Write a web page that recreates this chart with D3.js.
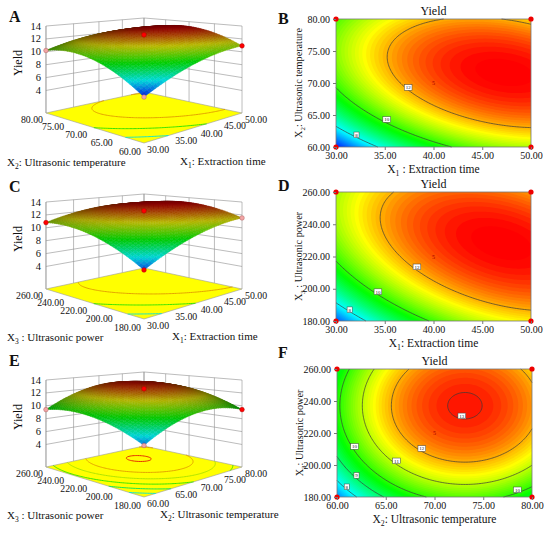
<!DOCTYPE html>
<html>
<head>
<meta charset="utf-8">
<script src="https://cdn.jsdelivr.net/npm/d3@7"></script>
<style>
  body { margin: 0; background: #fff; }
  svg { display: block; }
  text { font-family: "Liberation Serif", "Times New Roman", serif; fill: #111; }
</style>
</head>
<body>
<svg width="550" height="535"></svg>
<script>
// quadratic model of Yield, factors in coded units (-1 .. 1)
const intercept = 12.63;
const linearCoef = [1.52, 1.16, 1.16];          // X1, X2, X3
const interactionCoef = [-0.75, -0.86, 0.00];   // X1X2, X1X3, X2X3
const quadraticCoef = [-0.96, -1.86, -1.36];    // X1^2, X2^2, X3^2

const factorLow = [30, 60, 180];
const factorHigh = [50, 80, 260];
const factorTicks = [[30, 35, 40, 45, 50], [60, 65, 70, 75, 80], [180, 200, 220, 240, 260]];
const yieldTicks = [4, 6, 8, 10, 12, 14];

const levelsB = [8, 10, 12];
const levelsD = [8, 10, 12];
const levelsF = [8, 9, 10, 11, 12, 13];

// contour labels [x, y, level] as they sit in the picture
const labelsB = [[32.1, 61.9, 8], [35.2, 64.3, 10], [37.4, 69.3, 12]];
const labelsD = [[31.4, 187, 8], [34.3, 198.2, 10], [38.3, 213.6, 12]];
const labelsF = [[61.0, 186.4, 8], [62.0, 193.5, 9], [61.8, 211.6, 10], [66.1, 202.6, 11],
                 [68.7, 210.3, 12], [72.8, 230.7, 13], [78.5, 184.5, 10]];

// design points shown on the surfaces [right factor, left factor (coded), above surface?]
const pointsA = [[-1, -1, 0], [-1, 1, 0], [1, -1, 1], [0, 0, 1]];
const pointsC = [[-1, -1, 1], [-1, 1, 1], [1, -1, 0], [0, 0, 1]];
const pointsE = [[-1, -1, 0], [-1, 1, 0], [1, -1, 1], [0, 0, 1]];

const svg = d3.select('svg');

function yieldAt(c) {
  let y = intercept;
  for (let i = 0; i < 3; i++) y += linearCoef[i] * c[i] + quadraticCoef[i] * c[i] * c[i];
  y += interactionCoef[0] * c[0] * c[1] + interactionCoef[1] * c[0] * c[2] + interactionCoef[2] * c[1] * c[2];
  return y;
}
const toCoded = (f, x) => (x - (factorLow[f] + factorHigh[f]) / 2) / ((factorHigh[f] - factorLow[f]) / 2);
const toData = (f, c) => (factorLow[f] + factorHigh[f]) / 2 + c * (factorHigh[f] - factorLow[f]) / 2;

const color = d3.scaleLinear()
  .domain([6.2, 7.95, 9.7, 11.45, 13.2])
  .range(['#0000ff', '#00ffff', '#00ff00', '#ffff00', '#ff0000'])
  .clamp(true);

function makeGrid(xf, yf, n, m) {
  const vals = new Array(n * m);
  for (let j = 0; j < m; j++) for (let i = 0; i < n; i++) {
    const c = [0, 0, 0];
    c[xf] = -1 + 2 * i / (n - 1);
    c[yf] = -1 + 2 * j / (m - 1);
    vals[j * n + i] = yieldAt(c);
  }
  return vals;
}
const gridToCoded = (g, n) => Math.max(-1, Math.min(1, -1 + 2 * (g - 0.5) / (n - 1)));

function isolinePath(vals, n, m, level, toScreen) {
  const mp = d3.contours().size([n, m]).thresholds([level])(vals)[0];
  const onEdge = p => p[0] <= 0 || p[0] >= n || p[1] <= 0 || p[1] >= m;
  let s = '';
  mp.coordinates.forEach(poly => poly.forEach(ring => {
    let pen = false;
    for (let k = 1; k < ring.length; k++) {
      const p0 = ring[k - 1], p1 = ring[k];
      if (onEdge(p0) || onEdge(p1)) { pen = false; continue; }
      const a = toScreen(p0), b = toScreen(p1);
      if (!pen) { s += 'M' + a[0].toFixed(2) + ',' + a[1].toFixed(2); pen = true; }
      s += 'L' + b[0].toFixed(2) + ',' + b[1].toFixed(2);
    }
  }));
  return s;
}

function titleText(sel, sub, rest) {
  sel.append('tspan').text('X');
  sel.append('tspan').attr('font-size', '0.68em').attr('dy', 3).text(sub);
  sel.append('tspan').attr('dy', -3).text(rest);
}

// ---------- 3D response surfaces ----------
const D = 8.05, focal = 558, eyeH = 2.03, boxH = 1.255, camX = 144, camY = -27.7;
const hScale = d3.scaleLinear().domain([0.5, 14]).range([0, boxH]);

const surfacePanels = [
  { letter: 'A', top: 0, right: 0, left: 1, levels: levelsB, points: pointsA, letterY: 21.5, titleY: 166,
    leftTitle: ['2', ': Ultrasonic temperature'], rightTitle: ['1', ': Extraction time'], rightX: 180 },
  { letter: 'C', top: 176, right: 0, left: 2, levels: levelsD, points: pointsC, letterY: 16, titleY: 164.5,
    leftTitle: ['3', ' : Ultrasonic power'], rightTitle: ['1', ': Extraction time'], rightX: 172 },
  { letter: 'E', top: 354, right: 1, left: 2, levels: levelsF, points: pointsE, letterY: 11.5, titleY: 165,
    leftTitle: ['3', ' : Ultrasonic power'], rightTitle: ['2', ': Ultrasonic temperature'], rightX: 160 }
];

const light = (() => { const v = [-1, -1, 0.6], l = Math.hypot(...v); return v.map(d => d / l); })();

surfacePanels.forEach(P => {
  const g = svg.append('g');
  const proj = (a, b, h) => {
    const s = (a - b) / Math.SQRT2, d = D + (a + b) / Math.SQRT2;
    return [camX + focal * s / d, P.top + camY + focal * (eyeH - h) / d];
  };
  const zAt = (a, b) => { const c = [0, 0, 0]; c[P.right] = a; c[P.left] = b; return yieldAt(c); };
  const line = pts => 'M' + pts.map(p => p[0].toFixed(2) + ',' + p[1].toFixed(2)).join('L');

  // back walls with grid
  const walls = g.append('g').attr('fill', 'none').attr('stroke', '#8f8f8f').attr('stroke-width', 0.6);
  yieldTicks.forEach(z => {
    const h = hScale(z);
    walls.append('path').attr('d', line([proj(-1, 1, h), proj(1, 1, h), proj(1, -1, h)]));
  });
  factorTicks[P.right].forEach(t => {
    const a = toCoded(P.right, t);
    walls.append('path').attr('d', line([proj(a, 1, 0), proj(a, 1, boxH)]));
  });
  factorTicks[P.left].forEach(t => {
    const b = toCoded(P.left, t);
    walls.append('path').attr('d', line([proj(1, b, 0), proj(1, b, boxH)]));
  });
  walls.append('path').attr('d', line([proj(-1, 1, 0), proj(-1, 1, boxH)]));

  // floor with contour lines
  g.append('path')
    .attr('d', line([proj(-1, -1, 0), proj(1, -1, 0), proj(1, 1, 0), proj(-1, 1, 0)]) + 'Z')
    .attr('fill', '#ffff00').attr('stroke', '#9a9a9a').attr('stroke-width', 0.6);
  const n = 81, m = 81;
  const vals = makeGrid(P.right, P.left, n, m);
  const floorPt = p => proj(gridToCoded(p[0], n), gridToCoded(p[1], m), 0);
  P.levels.forEach(lv => {
    g.append('path').attr('d', isolinePath(vals, n, m, lv, floorPt))
      .attr('fill', 'none').attr('stroke', d3.color(color(lv)).darker(0.35)).attr('stroke-width', 0.9);
  });

  // surface quads, painted back to front
  const N = 40, quads = [];
  for (let i = 0; i < N; i++) for (let j = 0; j < N; j++) {
    const a0 = -1 + 2 * i / N, a1 = -1 + 2 * (i + 1) / N, b0 = -1 + 2 * j / N, b1 = -1 + 2 * (j + 1) / N;
    const z00 = zAt(a0, b0), z10 = zAt(a1, b0), z11 = zAt(a1, b1), z01 = zAt(a0, b1);
    const h00 = hScale(z00), h10 = hScale(z10), h11 = hScale(z11), h01 = hScale(z01);
    const dha = ((h10 + h11) - (h00 + h01)) / (2 * (a1 - a0));
    const dhb = ((h01 + h11) - (h00 + h10)) / (2 * (b1 - b0));
    const nl = Math.hypot(dha, dhb, 1);
    const dot = (-dha * light[0] - dhb * light[1] + light[2]) / nl;
    const k = 0.1 + 0.95 * Math.max(0, dot);
    const c = d3.rgb(color((z00 + z10 + z11 + z01) / 4));
    const col = d3.rgb(Math.min(255, c.r * k), Math.min(255, c.g * k), Math.min(255, c.b * k)).formatHex();
    quads.push({
      depth: D + ((a0 + a1) / 2 + (b0 + b1) / 2) / Math.SQRT2,
      d: line([proj(a0, b0, h00), proj(a1, b0, h10), proj(a1, b1, h11), proj(a0, b1, h01)]) + 'Z',
      col
    });
  }
  quads.sort((p, q) => q.depth - p.depth);
  g.append('g').selectAll('path').data(quads).join('path')
    .attr('d', d => d.d).attr('fill', d => d.col).attr('stroke', d => d.col).attr('stroke-width', 0.45);

  // design points
  g.append('g').selectAll('circle').data(P.points).join('circle')
    .attr('cx', d => proj(d[0], d[1], hScale(zAt(d[0], d[1])))[0])
    .attr('cy', d => proj(d[0], d[1], hScale(zAt(d[0], d[1])))[1])
    .attr('r', 2.3)
    .attr('fill', d => d[2] ? '#ff0000' : '#f2a5a5')
    .attr('stroke', d => d[2] ? '#b00000' : '#b06060').attr('stroke-width', 0.5);

  // tick labels
  const tl = g.append('g').attr('font-size', 9.8);
  yieldTicks.forEach(z => {
    const p = proj(-1, 1, hScale(z));
    tl.append('text').attr('x', p[0] - 5).attr('y', p[1] + 3.5).attr('font-size', 10.5)
      .attr('text-anchor', 'end').text(z);
  });
  factorTicks[P.left].forEach((t, i) => {
    const p = proj(-1, toCoded(P.left, t), 0);
    tl.append('text').attr('x', p[0] - 3).attr('y', p[1] + 10 + (4 - i) * 0.6)
      .attr('text-anchor', 'end').text(d3.format('.2f')(t));
  });
  factorTicks[P.right].forEach(t => {
    const p = proj(toCoded(P.right, t), -1, 0);
    tl.append('text').attr('x', p[0] + 3).attr('y', p[1] + 10).attr('text-anchor', 'start').text(d3.format('.2f')(t));
  });

  g.append('text').attr('transform', `translate(22,${P.top + 63}) rotate(-90)`)
    .attr('text-anchor', 'middle').attr('font-size', 12).text('Yield');
  g.append('text').attr('x', 7).attr('y', P.top + P.titleY).attr('font-size', 11)
    .call(titleText, P.leftTitle[0], P.leftTitle[1]);
  g.append('text').attr('x', P.rightX).attr('y', P.top + P.titleY - 1).attr('font-size', 11)
    .call(titleText, P.rightTitle[0], P.rightTitle[1]);
  g.append('text').attr('x', 9).attr('y', P.top + P.letterY)
    .attr('font-size', 16).attr('font-weight', 'bold').text(P.letter);
});

// ---------- 2D contour plots ----------
const contourPanels = [
  { letter: 'B', xf: 0, yf: 1, x0: 336, x1: 531, y0: 19, y1: 147, levels: levelsB, labels: labelsB,
    center: [40, 70], letterY: 24, xTitle: ['1', ' : Extraction time'], yTitle: ['2', ': Ultrasonic temperature'] },
  { letter: 'D', xf: 0, yf: 2, x0: 336, x1: 531, y0: 192, y1: 321, levels: levelsD, labels: labelsD,
    center: [40, 220], letterY: 190.5, xTitle: ['1', ': Extraction time'], yTitle: ['3', ' : Ultrasonic power'] },
  { letter: 'F', xf: 1, yf: 2, x0: 337, x1: 532, y0: 369, y1: 497, levels: levelsF, labels: labelsF,
    center: [70, 220], letterY: 357.5, xTitle: ['2', ': Ultrasonic temperature'], yTitle: ['3', ': Ultrasonic power'] }
];

contourPanels.forEach(P => {
  const g = svg.append('g');
  const xs = d3.scaleLinear().domain([factorLow[P.xf], factorHigh[P.xf]]).range([P.x0, P.x1]);
  const ys = d3.scaleLinear().domain([factorLow[P.yf], factorHigh[P.yf]]).range([P.y1, P.y0]);
  const n = 121, m = 91;
  const vals = makeGrid(P.xf, P.yf, n, m);
  const toScreen = p => [xs(toData(P.xf, gridToCoded(p[0], n))), ys(toData(P.yf, gridToCoded(p[1], m)))];
  const path = d3.geoPath(d3.geoTransform({
    point: function (x, y) { const s = toScreen([x, y]); this.stream.point(s[0], s[1]); }
  }));

  const thresholds = d3.range(50, 140).map(k => k / 10);
  const bands = d3.contours().size([n, m]).thresholds(thresholds)(vals);
  g.append('g').selectAll('path').data(bands).join('path')
    .attr('d', path).attr('fill', d => color(d.value + 0.05));

  g.append('g').selectAll('path').data(P.levels).join('path')
    .attr('d', lv => isolinePath(vals, n, m, lv, toScreen))
    .attr('fill', 'none').attr('stroke', '#3a3a3a').attr('stroke-width', 0.7);

  g.append('rect').attr('x', P.x0).attr('y', P.y0).attr('width', P.x1 - P.x0).attr('height', P.y1 - P.y0)
    .attr('fill', 'none').attr('stroke', '#777').attr('stroke-width', 0.8);

  const lab = g.append('g').selectAll('g').data(P.labels).join('g')
    .attr('transform', d => `translate(${xs(d[0])},${ys(d[1])})`);
  lab.append('rect')
    .attr('x', d => -(String(d[2]).length * 2.6 + 2.5) / 2).attr('y', -2.8)
    .attr('width', d => String(d[2]).length * 2.6 + 2.5).attr('height', 5.6)
    .attr('fill', '#fff').attr('stroke', '#444').attr('stroke-width', 0.5);
  lab.append('text').attr('text-anchor', 'middle').attr('dy', 1.9).attr('font-size', 5).text(d => d[2]);

  g.append('text').attr('x', xs(P.center[0])).attr('y', ys(P.center[1]) + 2)
    .attr('text-anchor', 'middle').attr('font-size', 6).style('fill', '#a00000').text('5');

  const corners = [[0, 0], [0, 1], [1, 0], [1, 1]];
  g.append('g').selectAll('circle').data(corners).join('circle')
    .attr('cx', d => xs(d[0] ? factorHigh[P.xf] : factorLow[P.xf]))
    .attr('cy', d => ys(d[1] ? factorHigh[P.yf] : factorLow[P.yf]))
    .attr('r', 2.6).attr('fill', '#ee0000');

  const xAxis = g.append('g').attr('transform', `translate(0,${P.y1})`)
    .call(d3.axisBottom(xs).tickValues(factorTicks[P.xf]).tickFormat(d3.format('.2f')).tickSize(3).tickPadding(2));
  const yAxis = g.append('g').attr('transform', `translate(${P.x0},0)`)
    .call(d3.axisLeft(ys).tickValues(factorTicks[P.yf]).tickFormat(d3.format('.2f')).tickSize(3).tickPadding(3));
  [xAxis, yAxis].forEach(ax => {
    ax.select('.domain').remove();
    ax.selectAll('line').attr('stroke', '#777');
    ax.selectAll('text').attr('font-size', 10).attr('font-family', '"Liberation Serif", serif').style('fill', '#111');
  });

  g.append('text').attr('x', (P.x0 + P.x1) / 2).attr('y', P.y0 - 4).attr('text-anchor', 'middle')
    .attr('font-size', 12).text('Yield');
  g.append('text').attr('x', (P.x0 + P.x1) / 2).attr('y', P.y1 + 26).attr('text-anchor', 'middle')
    .attr('font-size', 11.5).call(titleText, P.xTitle[0], P.xTitle[1]);
  g.append('text').attr('transform', `translate(${P.x0 - 34},${(P.y0 + P.y1) / 2}) rotate(-90)`)
    .attr('text-anchor', 'middle').attr('font-size', 10.2).call(titleText, P.yTitle[0], P.yTitle[1]);
  g.append('text').attr('x', 278).attr('y', P.letterY)
    .attr('font-size', 16).attr('font-weight', 'bold').text(P.letter);
});
</script>
</body>
</html>
